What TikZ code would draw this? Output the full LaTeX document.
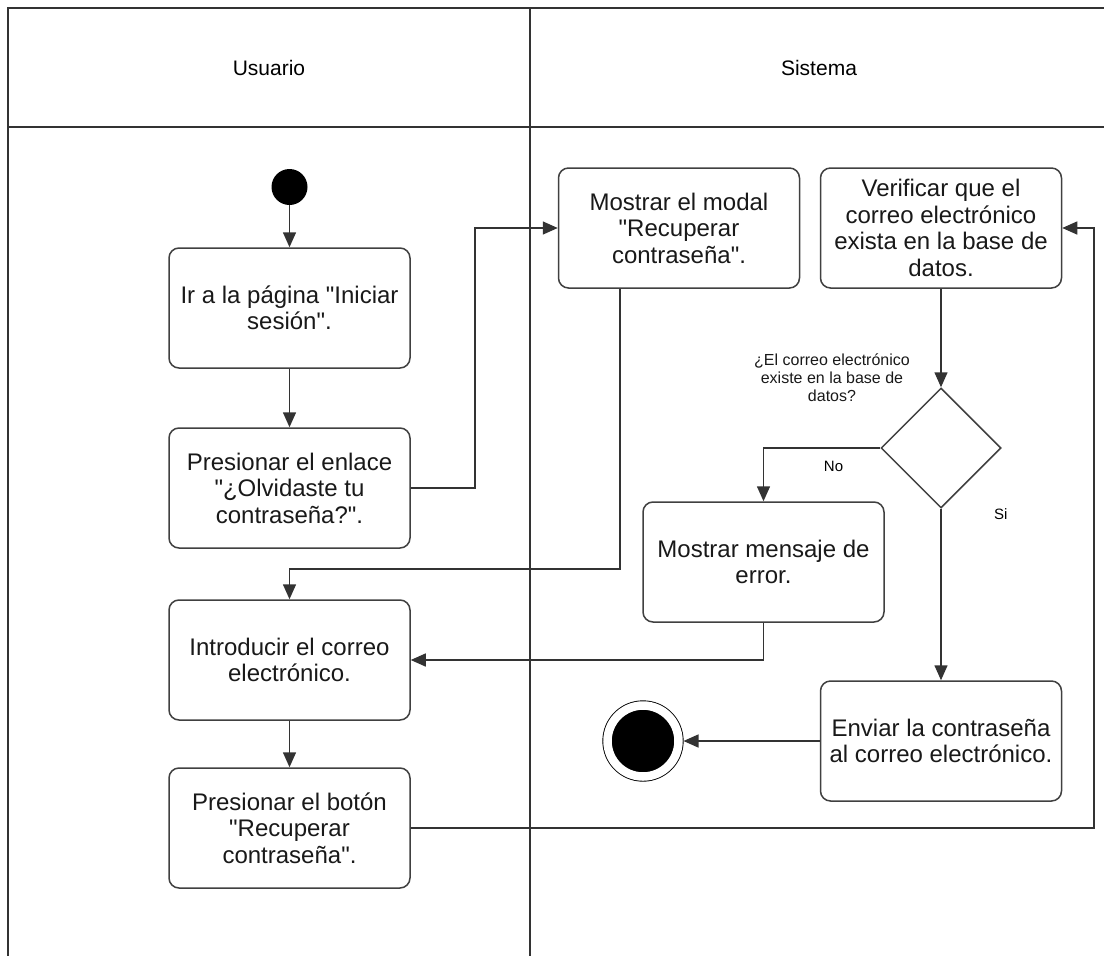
\documentclass[tikz,border=0pt]{standalone}
\usepackage{fontspec}
\setmainfont{Liberation Sans}[Ligatures=TeXOff]
\usetikzlibrary{shapes.geometric, arrows.meta, positioning}
\newcommand{\boxfont}{\fontsize{24}{26.5}\selectfont}
\newcommand{\headfont}{\fontsize{21}{24}\selectfont}
\newcommand{\notefont}{\fontsize{16}{18}\selectfont}
\newcommand{\tagfont}{\fontsize{15}{17}\selectfont}
\tikzstyle{lane} = [draw=black!80, line width=1.6pt]
\tikzstyle{block} = [rectangle, draw=black!75, line width=1.5pt, fill=white, rounded corners=10pt, minimum width=241pt, minimum height=120pt, inner sep=2pt, align=center, font=\boxfont, text=black!90]
\tikzstyle{decision} = [diamond, draw=black!75, line width=1.5pt, minimum width=120pt, minimum height=120pt, inner sep=0pt]
\tikzstyle{startnode} = [circle, fill=black, minimum size=36pt, inner sep=0pt]
\tikzstyle{endnode} = [circle, draw=black, fill=black, double=white, double distance=8.5pt, line width=0.9pt, minimum size=71pt, inner sep=0pt, outer sep=5pt]
\tikzstyle{note} = [align=center, font=\notefont, text=black!90]
\tikzstyle{arrow}=[draw=black!80, line width=1.5pt, -{Triangle[length=15pt,width=13pt]}]

\begin{document}
\begin{tikzpicture}[x=1pt, y=-1pt, node distance=180pt]
        \useasboundingbox (0,0) rectangle (1104,956);
        % Lanes
        \draw [lane] (8,8) rectangle (1108,990);
        \draw [lane] (8,127) -- (1108,127);
        \draw [lane] (530,8) -- (530,990);
        \node [font=\headfont] (usuario) at (269,68) {Usuario};
        \node [font=\headfont] (sistema) at (819,68) {Sistema};
        % Place nodes
        \node [startnode] (S) at (289.5,187) {};
        \node [block] (A) at (289.5,308) {Ir a la página "Iniciar\\sesión".};
        \node [block, below of=A] (B) {Presionar el enlace\\"¿Olvidaste tu\\contraseña?".};
        \node [block, below of=B, yshift=8pt] (C) {Introducir el correo\\electrónico.};
        \node [block, below of=C, yshift=12pt] (D) {Presionar el botón\\"Recuperar\\contraseña".};
        \node [block] (modal) at (679,228) {Mostrar el modal\\"Recuperar\\contraseña".};
        \node [block, right of=modal, node distance=262pt] (verif) {Verificar que el\\correo electrónico\\exista en la base de\\datos.};
        \node [decision, below of=verif, node distance=220pt] (dec) {};
        \node [note] (pregunta) at (832,378) {¿El correo electrónico\\existe en la base de\\datos?};
        \node [block] (error) at (763.5,562) {Mostrar mensaje de\\error.};
        \node [block, below of=dec, node distance=293pt] (envio) {Enviar la contraseña\\al correo electrónico.};
        \node [endnode, left of=envio, node distance=298pt] (E) {};
        % Draw edges
        \path [arrow] (S) -- (A);
        \path [arrow] (A) -- (B);
        \path [arrow] (B.east) -- ++(64,0) |- (modal);
        \path [arrow] ([xshift=-59pt]modal.south) -- ++(0,280) -| (C);
        \path [arrow] (C) -- (D);
        \path [arrow] (D.east) -- ++(683,0) |- (verif);
        \path [arrow] (verif) -- (dec);
        \path [arrow] (dec.west) -| node [font=\tagfont, pos=0.2, below, yshift=-9pt] {No} (error);
        \path [arrow] (dec) -- node [font=\tagfont, pos=0.03, right, xshift=49pt] {Si} (envio);
        \path [arrow] (error) |- (C);
        \path [arrow] (envio) -- (E);
    \end{tikzpicture}
\end{document}
